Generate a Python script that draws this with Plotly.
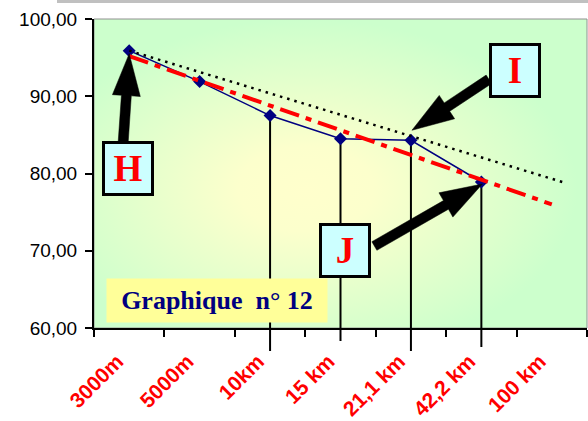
import base64
import numpy as np
import plotly.graph_objects as go

# ---------------- data ----------------
categories = ["3000m", "5000m", "10km", "15 km", "21,1 km", "42,2 km", "100 km"]
series_values = [95.9, 91.9, 87.5, 84.5, 84.3, 78.9]        # blue line (first six distances)
dotted_x = [0, 6.15]                                          # black dotted trend
dotted_y = [95.9, 78.9]
red_x = [0, 6.0]                                              # red dash-dot trend
red_y = [95.2, 76.0]
y_tick_values = [60, 70, 80, 90, 100]
drop_categories = ["10km", "15 km", "21,1 km", "42,2 km"]     # vertical drop lines
title_text = "Graphique\u00a0 n° 12"

# ---------------- styling / layout constants ----------------
W, H = 588, 421
ML, MR, MT, MB = 94, 1, 19, 91
drop_ext_px = [23, 13, 23, 19]
NAVY = "#000080"

idx = {c: i for i, c in enumerate(categories)}
x_vals = list(range(len(series_values)))

fig = go.Figure()

fig.add_trace(go.Scatter(x=x_vals, y=series_values, mode="lines+markers",
                         line=dict(color=NAVY, width=1.5),
                         marker=dict(symbol="diamond", size=10, color=NAVY),
                         showlegend=False, hoverinfo="skip"))
fig.add_trace(go.Scatter(x=dotted_x, y=dotted_y, mode="lines",
                         line=dict(color="black", width=2.5, dash="2.5px,5px"),
                         showlegend=False, hoverinfo="skip"))
fig.add_trace(go.Scatter(x=red_x, y=red_y, mode="lines",
                         line=dict(color="#FF0000", width=4, dash="20px,7px,6px,7px"),
                         showlegend=False, hoverinfo="skip"))

shapes = []
# plot frame + top band
shapes.append(dict(type="rect", xref="paper", yref="paper", x0=0, x1=1, y0=0, y1=1,
                   line=dict(color="#909090", width=1), layer="below"))
shapes.append(dict(type="rect", xref="paper", yref="paper", xsizemode="pixel", ysizemode="pixel",
                   xanchor=0, yanchor=1, x0=-37, x1=494, y0=16, y1=19,
                   fillcolor="#C0C0C0", line=dict(width=0)))

# vertical drop lines
for c, ext in zip(drop_categories, drop_ext_px):
    i = idx[c]
    v = series_values[i]
    shapes.append(dict(type="line", xref="x", yref="y", x0=i, x1=i, y0=y_tick_values[0], y1=v,
                       line=dict(color="black", width=2), layer="below"))
    shapes.append(dict(type="line", xref="x", yref="paper", ysizemode="pixel", yanchor=0,
                       x0=i, x1=i, y0=-ext, y1=0, line=dict(color="black", width=2)))


def arrow_path(tip, tail, shaft=10, head_len=42, head_w=28):
    tip = np.array(tip, float)
    tail = np.array(tail, float)
    d = tip - tail
    u = d / np.hypot(*d)
    n = np.array([-u[1], u[0]])
    base = tip - u * head_len
    pts = [tail + n * shaft / 2, base + n * shaft / 2, base + n * head_w / 2, tip,
           base - n * head_w / 2, base - n * shaft / 2, tail - n * shaft / 2]
    return "M" + " L".join(f"{p[0]:.1f},{-p[1]:.1f}" for p in pts) + " Z"


# arrows: (label, category, tip offset, tail offset, box center offset)  -- screen px, y down
arrows = [
    ("H", "3000m", (0, 3), (-6, 91), (-1.5, 118)),
    ("I", "21,1 km", (1, -10), (78, -61), (104, -70)),
    ("J", "42,2 km", (1, 2), (-107, 64), (-136, 68)),
]

annotations = []
for label, c, tip, tail, box in arrows:
    i = idx[c]
    v = series_values[i]
    shapes.append(dict(type="path", xref="x", yref="y", xsizemode="pixel", ysizemode="pixel",
                       xanchor=i, yanchor=v, path=arrow_path(tip, tail),
                       fillcolor="black", line=dict(color="black", width=0.5)))
    annotations.append(dict(x=i, y=v, xref="x", yref="y", showarrow=False,
                            xshift=box[0], yshift=-box[1], xanchor="center", yanchor="middle",
                            text=f"<b>{label}</b>",
                            font=dict(family="Liberation Serif", size=37, color="#FF0000"),
                            bgcolor="#CCFFFF", bordercolor="black", borderwidth=3, borderpad=0,
                            width=46, height=49, align="center", valign="middle"))

annotations.append(dict(x=0.2495, y=0.088, xref="paper", yref="paper", showarrow=False,
                        xanchor="center", yanchor="middle", text=f"<b>{title_text}</b>",
                        font=dict(family="Liberation Serif", size=26, color=NAVY),
                        bgcolor="#FFFF99", borderpad=0, width=220, height=43, align="center"))

# gradient background as embedded svg
svg = ('<svg xmlns="http://www.w3.org/2000/svg" width="493" height="311" viewBox="0 0 100 100" '
       'preserveAspectRatio="none"><defs><radialGradient id="g" cx="0.43" cy="0.55" r="0.55">'
       '<stop offset="0" stop-color="#FFFFCC"/><stop offset="0.25" stop-color="#FCFFCC"/>'
       '<stop offset="1" stop-color="#CCFFCC"/></radialGradient></defs>'
       '<rect width="100" height="100" fill="url(#g)"/></svg>')
src = "data:image/svg+xml;base64," + base64.b64encode(svg.encode()).decode()

fig.update_layout(
    width=W, height=H,
    margin=dict(l=ML, r=MR, t=MT, b=MB, pad=0),
    paper_bgcolor="white", plot_bgcolor="rgba(0,0,0,0)",
    separators=", ",
    shapes=shapes, annotations=annotations,
    images=[dict(source=src, xref="paper", yref="paper", x=0, y=1, sizex=1, sizey=1,
                 xanchor="left", yanchor="top", sizing="stretch", layer="below")],
    xaxis=dict(range=[-0.5, len(categories) - 0.5], tickmode="array",
               tickvals=list(range(len(categories))), ticktext=categories,
               ticks="", tickangle=-45, showgrid=False, zeroline=False,
               showline=True, linecolor="black", linewidth=2,
               tickfont=dict(family="Liberation Sans", size=21, color="#FF0000", weight="bold"),
               ticklabelstandoff=11, ticklabelshift=-12,
               minor=dict(tickmode="array", tickvals=[i - 0.5 for i in range(len(categories) + 1)],
                          ticks="outside", ticklen=7, tickwidth=1.5, tickcolor="black", showgrid=False)),
    yaxis=dict(range=[y_tick_values[0], y_tick_values[-1]], tickmode="array", tickvals=y_tick_values,
               tickformat=".2f", ticks="outside", ticklen=7, tickwidth=1.5, tickcolor="black",
               showgrid=False, zeroline=False, showline=True, linecolor="black", linewidth=2,
               tickfont=dict(family="Liberation Sans", size=19, color="black"),
               ticklabelstandoff=4),
)

fig.write_html("out.html")
